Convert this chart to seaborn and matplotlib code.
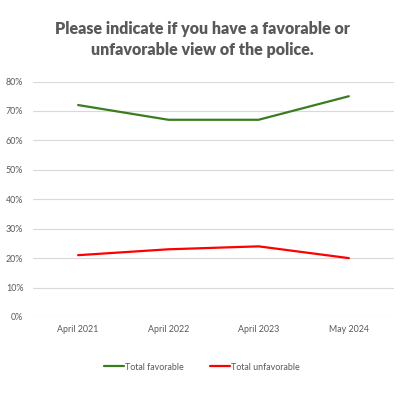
import matplotlib
matplotlib.use("Agg")
import matplotlib.pyplot as plt
import seaborn as sns
import pandas as pd
from matplotlib.lines import Line2D

categories = ["April 2021", "April 2022", "April 2023", "May 2024"]
favorable = [72, 67, 67, 75]
unfavorable = [21, 23, 24, 20]
series_names = ["Total favorable", "Total unfavorable"]
yticks = [0, 10, 20, 30, 40, 50, 60, 70, 80]

sns.set_theme(style="white")
plt.rcParams['font.family'] = ['Lato', 'DejaVu Sans']

df = pd.DataFrame({
    "x": list(range(len(categories))) * 2,
    "value": favorable + unfavorable,
    "series": [series_names[0]] * len(categories) + [series_names[1]] * len(categories),
})

fig = plt.figure(figsize=(4.04, 3.93), dpi=100)
ax = fig.add_axes([33 / 404, 1 - 317 / 393, (394 - 33) / 404, (317 - 81.5) / 393])

sns.lineplot(data=df, x="x", y="value", hue="series",
             palette={series_names[0]: "#3a7d1e", series_names[1]: "#ff0000"},
             linewidth=1.6, ax=ax, legend=False)

ax.set_xlim(-0.5, len(categories) - 0.5)
ax.set_ylim(0, 80)
ax.set_yticks(yticks)
ax.set_yticklabels([f"{v}%" for v in yticks])
ax.set_xticks(range(len(categories)))
ax.set_xticklabels(categories)
ax.tick_params(axis='both', labelsize=6.4, colors="#595959", length=0)
ax.tick_params(axis='y', pad=7)
ax.tick_params(axis='x', pad=6)
ax.set_xlabel("")
ax.set_ylabel("")
for s in ax.spines.values():
    s.set_visible(False)
ax.grid(axis='y', color="#d9d9d9", linewidth=0.8)
ax.set_axisbelow(True)

fig.text(0.5, 1 - 29 / 393, "Please indicate if you have a favorable or",
         ha="center", va="center", fontsize=11.5, fontweight="heavy", color="#595959")
fig.text(0.5, 1 - 50 / 393, "unfavorable view of the police.",
         ha="center", va="center", fontsize=11.5, fontweight="heavy", color="#595959")

handles = [Line2D([0], [0], color="#3a7d1e", lw=1.6),
           Line2D([0], [0], color="#ff0000", lw=1.6)]
fig.legend(handles, series_names, loc="center", bbox_to_anchor=(0.5, 1 - 367 / 393),
           ncol=2, frameon=False, fontsize=6.4, labelcolor="#595959",
           handlelength=2.2, handletextpad=0.1, columnspacing=3.0)

fig.savefig("out.png", dpi=100)
